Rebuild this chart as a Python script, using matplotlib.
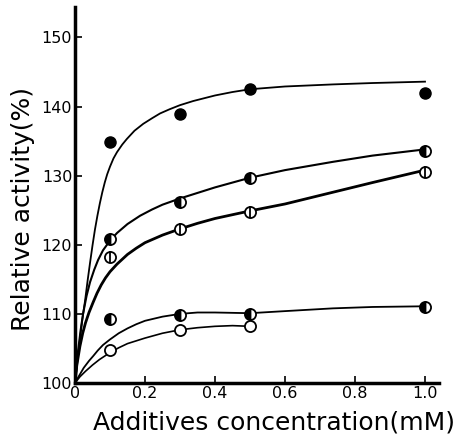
import matplotlib
matplotlib.use("Agg")
import matplotlib.pyplot as plt

# ---- measured points ----
conc = [0.1, 0.3, 0.5, 1.0]
filled = [134.8, 138.9, 142.6, 142.0]          # filled circles
half_upper = [120.8, 126.2, 129.7, 133.6]      # left-half filled, upper
vbar = [118.2, 122.3, 124.8, 130.6]            # circle with vertical bar
half_lower = [109.2, 109.9, 110.0, 111.0]      # left-half filled, lower
open_x = [0.1, 0.3, 0.5]
open_c = [104.8, 107.7, 108.2]                 # open circles

# ---- fitted curves ----
cx_filled = [0, 0.007, 0.014, 0.021, 0.029, 0.036, 0.043, 0.05, 0.057, 0.064, 0.071, 0.078, 0.085,
             0.092, 0.1, 0.11, 0.12, 0.135, 0.148, 0.17, 0.195, 0.22, 0.243, 0.27, 0.3, 0.338,
             0.4, 0.45, 0.5, 0.6, 0.737, 0.85, 1.0]
cy_filled = [100, 103.2, 106.3, 109.2, 112.0, 114.8, 117.4, 119.9, 122.2, 124.2, 126.0, 127.6, 129.0,
             130.2, 131.3, 132.5, 133.4, 134.5, 135.3, 136.5, 137.5, 138.3, 139.0, 139.6, 140.2, 140.8,
             141.6, 142.1, 142.5, 142.9, 143.2, 143.4, 143.6]

cx_hu = [0, 0.008, 0.016, 0.023, 0.033, 0.043, 0.055, 0.066, 0.08, 0.1, 0.12, 0.15, 0.186, 0.22,
         0.25, 0.3, 0.35, 0.4, 0.5, 0.6, 0.737, 0.85, 1.0]
cy_hu = [100, 104.3, 107.6, 110.0, 112.6, 114.6, 116.4, 117.8, 119.2, 120.6, 121.7, 123.0, 124.2, 125.1,
         125.8, 126.7, 127.5, 128.3, 129.7, 130.8, 132.0, 132.9, 133.8]

cx_vb = [0, 0.005, 0.014, 0.022, 0.03, 0.04, 0.052, 0.063, 0.075, 0.087, 0.1, 0.12, 0.15, 0.175,
         0.2, 0.25, 0.3, 0.35, 0.4, 0.5, 0.6, 0.737, 0.85, 1.0]
cy_vb = [100, 102.5, 105.3, 107.2, 108.7, 110.2, 111.7, 113.0, 114.2, 115.2, 116.1, 117.2, 118.6, 119.5,
         120.3, 121.4, 122.3, 123.1, 123.8, 124.9, 125.9, 127.6, 129.0, 130.8]

cx_hl = [0, 0.01, 0.025, 0.04, 0.052, 0.065, 0.08, 0.1, 0.125, 0.15, 0.175, 0.2, 0.25, 0.3,
         0.35, 0.4, 0.5, 0.6, 0.737, 0.85, 1.0]
cy_hl = [100, 100.9, 102.2, 103.2, 103.9, 104.7, 105.5, 106.3, 107.2, 107.9, 108.5, 109.0, 109.6, 110.0,
         110.2, 110.2, 110.1, 110.4, 110.8, 111.0, 111.1]

cx_op = [0, 0.014, 0.03, 0.05, 0.07, 0.1, 0.125, 0.15, 0.175, 0.2, 0.25, 0.3, 0.35, 0.4, 0.45, 0.5]
cy_op = [100, 100.9, 101.7, 102.6, 103.4, 104.4, 105.1, 105.7, 106.1, 106.5, 107.2, 107.7, 108.0, 108.2, 108.3, 108.2]

xticks = [0, 0.2, 0.4, 0.6, 0.8, 1.0]
xticklabels = ["0", "0.2", "0.4", "0.6", "0.8", "1.0"]
yticks = [100, 110, 120, 130, 140, 150]

plt.rcParams['font.family'] = ['DejaVu Sans']
fig = plt.figure(figsize=(4.61, 4.45), dpi=100)
ax = fig.add_axes([75/461, 62/445, 364/461, 376/445])

ax.plot(cx_filled, cy_filled, color='black', lw=1.3, zorder=2)
ax.plot(cx_hu, cy_hu, color='black', lw=1.5, zorder=2)
ax.plot(cx_vb, cy_vb, color='black', lw=2.0, zorder=2)
ax.plot(cx_hl, cy_hl, color='black', lw=1.3, zorder=2)
ax.plot(cx_op, cy_op, color='black', lw=1.2, zorder=2)

ms = 8
ax.plot(conc, filled, 'o', ms=ms, color='black', zorder=3)
ax.plot(conc, half_upper, 'o', ms=ms, fillstyle='left', markerfacecolor='black',
        markerfacecoloralt='white', markeredgecolor='black', mew=1.3, zorder=3)
ax.plot(conc, vbar, 'o', ms=ms, markerfacecolor='white', markeredgecolor='black', mew=1.3, zorder=3)
ax.plot(conc, vbar, '|', ms=ms, color='black', mew=1.3, zorder=4)
ax.plot(conc, half_lower, 'o', ms=ms, fillstyle='left', markerfacecolor='black',
        markerfacecoloralt='white', markeredgecolor='black', mew=1.3, zorder=3)
ax.plot(open_x, open_c, 'o', ms=ms, markerfacecolor='white', markeredgecolor='black', mew=1.3, zorder=3)

ax.set_xlim(0, 1.04)
ax.set_ylim(100, 154.4)
for s in ['top', 'right']:
    ax.spines[s].set_visible(False)
for s in ['left', 'bottom']:
    ax.spines[s].set_linewidth(2.5)

ax.set_xticks(xticks)
ax.set_xticklabels(xticklabels)
ax.set_yticks(yticks)
ax.tick_params(axis='both', direction='in', length=5, width=1.2, labelsize=11.5, pad=2)
ax.set_xlabel("Additives concentration(mM)", fontsize=18, labelpad=7, x=1.044, ha='right')
ax.set_ylabel("Relative activity(%)", fontsize=18, labelpad=5, y=0.463)

fig.savefig("out.png", dpi=100)
